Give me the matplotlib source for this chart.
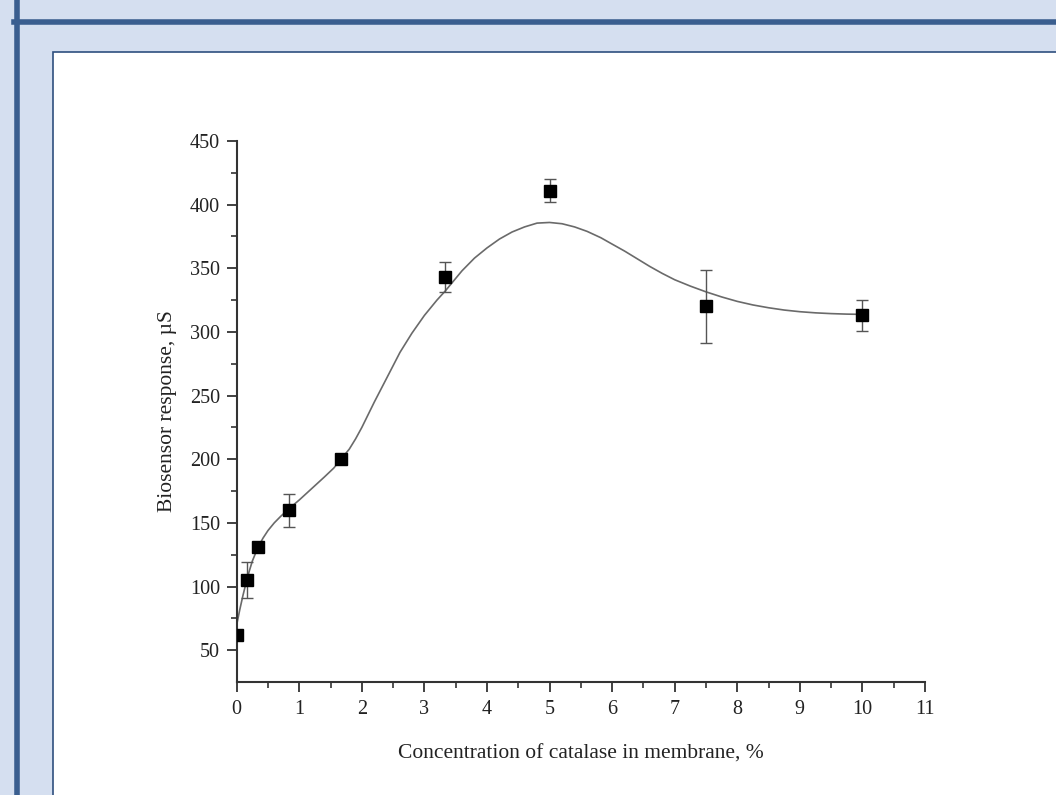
import matplotlib
matplotlib.use("Agg")
import matplotlib.pyplot as plt
from matplotlib.patches import Rectangle
from matplotlib.lines import Line2D

# measured points
conc = [0.0, 0.167, 0.333, 0.833, 1.667, 3.333, 5.0, 7.5, 10.0]
resp = [62, 105, 131, 160, 200, 343, 411, 320, 313]
err = [0, 14, 0, 13, 0, 12, 9, 29, 12]

# fitted curve
fit_x = [0.0, 0.05, 0.1, 0.15, 0.2, 0.25, 0.333, 0.42, 0.5, 0.6, 0.7, 0.833,
         1.0, 1.2, 1.4, 1.55, 1.667, 1.8, 1.9, 2.0, 2.2, 2.4, 2.61, 2.8, 3.0,
         3.2, 3.33, 3.6, 3.8, 4.0, 4.2, 4.4, 4.6, 4.8, 5.0, 5.2, 5.4, 5.6,
         5.82, 6.0, 6.2, 6.4, 6.6, 6.8, 7.0, 7.25, 7.5, 7.75, 8.0, 8.25, 8.5,
         8.75, 9.0, 9.25, 9.5, 9.75, 10.0]
fit_y = [70, 82, 93, 103, 112, 120, 130, 138, 144, 150, 155, 161,
         168, 177, 186, 193, 200, 208, 216, 225, 245, 264, 284, 299, 313,
         325, 332, 348, 358, 366, 373, 378.5, 382.5, 385.5, 386, 385, 382.5, 379,
         374, 369, 363.5, 357.5, 351.5, 346, 341, 336, 331.5, 327.5, 324, 321.2, 319,
         317.2, 315.9, 315, 314.4, 314, 313.8]

W, H = 1056, 795
fig = plt.figure(figsize=(W / 100, H / 100), dpi=100)
fig.patch.set_facecolor("#d5dff0")

# slide-like frame behind the axes
blue = "#3a5e8f"
fig.add_artist(Line2D([16.5 / W, 16.5 / W], [0, 1], color=blue, lw=4,
                      transform=fig.transFigure, zorder=-5))
fig.add_artist(Line2D([14 / W, 1], [1 - 21.5 / H, 1 - 21.5 / H], color=blue, lw=4,
                      transform=fig.transFigure, zorder=-5))
fig.add_artist(Rectangle((53 / W, -0.01), 1.0, 1 - 52 / H + 0.01, transform=fig.transFigure,
                         facecolor="white", edgecolor="#2f4f7f", lw=1.2, zorder=-4))

ax = fig.add_axes([236.7 / W, 1 - 682 / H, (925 - 236.7) / W, (682 - 141) / H])
ax.set_facecolor("none")

ax.plot(fit_x, fit_y, color="#6a6a6a", lw=1.2, zorder=2)
ax.errorbar(conc, resp, yerr=err, fmt="s", color="black", ms=8.5,
            ecolor="#555555", elinewidth=1.0, capsize=4.5, capthick=1.0, zorder=3)

ax.set_xlim(0, 11)
ax.set_ylim(25, 450)
ax.set_xticks(range(0, 12))
ax.set_xticks([i + 0.5 for i in range(11)], minor=True)
ax.set_yticks(range(50, 451, 50))
ax.set_yticks(range(75, 451, 50), minor=True)

for s in ["top", "right"]:
    ax.spines[s].set_visible(False)
for s in ["left", "bottom"]:
    ax.spines[s].set_color("#333333")
    ax.spines[s].set_linewidth(1.5)

serif = ["Liberation Serif", "DejaVu Serif"]
ax.tick_params(which="major", direction="out", length=7, width=1.3, color="#333333",
               labelsize=14.5, labelcolor="#222222")
ax.tick_params(which="minor", direction="out", length=4, width=1.2, color="#333333")
for lab in ax.get_xticklabels() + ax.get_yticklabels():
    lab.set_family(serif)
ax.tick_params(axis="x", pad=6)
ax.tick_params(axis="y", pad=5)

ax.set_xlabel("Concentration of catalase in membrane, %", family=serif, fontsize=15.5,
              color="#222222", labelpad=18)
ax.set_ylabel("Biosensor response, \u00b5S", family=serif, fontsize=15.5,
              color="#222222", labelpad=9)

fig.savefig("out.png", dpi=100, facecolor=fig.get_facecolor())
